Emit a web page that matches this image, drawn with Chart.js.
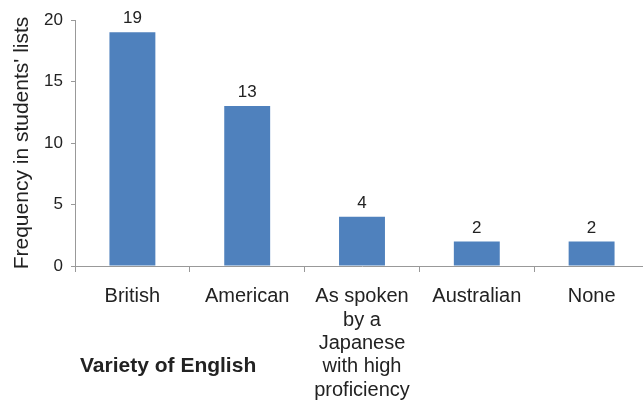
<!DOCTYPE html>
<html>
<head>
<meta charset="utf-8">
<script src="https://cdn.jsdelivr.net/npm/chart.js@4/dist/chart.umd.min.js"></script>
<style>
  html, body { margin: 0; padding: 0; background: #fff; overflow: hidden; }
  /* the axis runs slightly past the right edge in the original, so the canvas is a bit wider than the page */
  #wrap { width: 643px; height: 402px; overflow: hidden; }
</style>
</head>
<body>
<div id="wrap"><canvas id="freqChart" width="652" height="402"></canvas></div>
<script>
const categories = [
    ['British'],
    ['American'],
    ['As spoken', 'by a', 'Japanese', 'with high', 'proficiency'],
    ['Australian'],
    ['None'],
];
const frequencies = [19, 13, 4, 2, 2];
const yTicks = [0, 5, 10, 15, 20];

const FONT = "'Liberation Sans', Arial, sans-serif";
const TEXT = '#222222';

// numbers over the bars + the axis caption bottom-left
const barLabels = {
    id: 'barLabels',
    afterDatasetsDraw(chart) {
        const ctx = chart.ctx;
        const meta = chart.getDatasetMeta(0);
        ctx.save();
        ctx.fillStyle = TEXT;
        ctx.font = '17px ' + FONT;
        ctx.textAlign = 'center';
        ctx.textBaseline = 'bottom';
        meta.data.forEach((bar, i) => {
            ctx.fillText(frequencies[i], bar.x, bar.y - 5);
        });
        ctx.font = 'bold 21px ' + FONT;
        ctx.textAlign = 'left';
        ctx.textBaseline = 'middle';
        ctx.fillText('Variety of English', 80, 366);
        ctx.restore();
    }
};

new Chart(document.getElementById('freqChart'), {
    type: 'bar',
    data: {
        labels: categories,
        datasets: [{
            data: frequencies,
            backgroundColor: '#4F81BD',
            borderWidth: 0,
            categoryPercentage: 0.4,
            barPercentage: 1,
        }]
    },
    options: {
        responsive: false,
        animation: false,
        layout: { padding: { left: 0, top: 20, right: 3, bottom: 0 } },
        plugins: {
            legend: { display: false },
            tooltip: { enabled: false },
        },
        scales: {
            x: {
                grid: {
                    display: true,
                    offset: true,
                    drawOnChartArea: false,
                    tickLength: 6,
                    color: '#999999',
                },
                border: { color: '#999999' },
                ticks: {
                    color: TEXT,
                    font: { family: FONT, size: 20, lineHeight: 1.17 },
                    padding: 13,
                    maxRotation: 0,
                    autoSkip: false,
                },
                afterFit(scale) { scale.height = 136; },
            },
            y: {
                min: 0,
                max: 20,
                afterBuildTicks(scale) { scale.ticks = yTicks.map(v => ({ value: v })); },
                grid: {
                    drawOnChartArea: false,
                    tickLength: 4,
                    color: '#999999',
                },
                border: { color: '#999999' },
                ticks: {
                    color: TEXT,
                    font: { family: FONT, size: 17 },
                    padding: 8,
                },
                title: {
                    display: true,
                    text: "Frequency in students' lists",
                    color: TEXT,
                    font: { family: FONT, size: 21 },
                    padding: { top: 10, bottom: 6 },
                },
                afterFit(scale) { scale.width = 75; },
            }
        }
    },
    plugins: [barLabels]
});
</script>
</body>
</html>
